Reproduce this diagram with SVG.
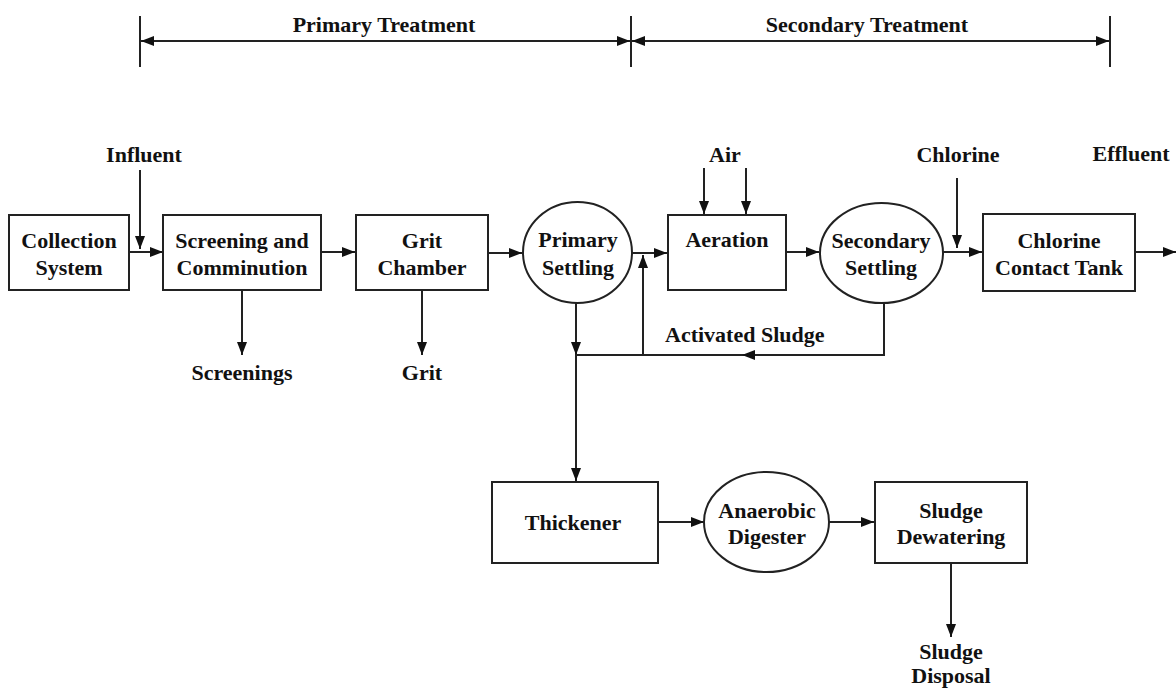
<svg xmlns="http://www.w3.org/2000/svg" width="1176" height="689" viewBox="0 0 1176 689">
<style>
.box{fill:#fff;stroke:#222;stroke-width:2}
.ln{fill:none;stroke:#222;stroke-width:2}
.t{font-family:"Liberation Serif","Times New Roman",serif;font-weight:bold;font-size:22px;fill:#111;text-anchor:middle}
.ts{text-anchor:start}
</style>
<defs>
<marker id="ah" markerUnits="userSpaceOnUse" markerWidth="14" markerHeight="12" refX="13" refY="5" orient="auto-start-reverse">
<path d="M0,0 L13,5 L0,10 z" fill="#111"/>
</marker>
</defs>
<g id="brackets">
<line class="ln" x1="140" y1="16" x2="140" y2="67"/>
<line class="ln" x1="631" y1="16" x2="631" y2="67"/>
<line class="ln" x1="1110" y1="16" x2="1110" y2="67"/>
<line class="ln" x1="141" y1="41" x2="630" y2="41" marker-start="url(#ah)" marker-end="url(#ah)"/>
<line class="ln" x1="632" y1="41" x2="1109" y2="41" marker-start="url(#ah)" marker-end="url(#ah)"/>
<text class="t" x="384" y="32">Primary Treatment</text>
<text class="t" x="867" y="32">Secondary Treatment</text>
</g>
<g id="connectors">
<line class="ln" x1="140" y1="170" x2="140" y2="249" marker-end="url(#ah)"/>
<line class="ln" x1="129" y1="252" x2="163" y2="252" marker-end="url(#ah)"/>
<line class="ln" x1="321" y1="252" x2="355" y2="252" marker-end="url(#ah)"/>
<line class="ln" x1="242" y1="290" x2="242" y2="355" marker-end="url(#ah)"/>
<line class="ln" x1="422" y1="290" x2="422" y2="355" marker-end="url(#ah)"/>
<line class="ln" x1="488" y1="253" x2="522" y2="253" marker-end="url(#ah)"/>
<line class="ln" x1="632" y1="253" x2="667" y2="253" marker-end="url(#ah)"/>
<line class="ln" x1="704" y1="168" x2="704" y2="214" marker-end="url(#ah)"/>
<line class="ln" x1="746" y1="168" x2="746" y2="214" marker-end="url(#ah)"/>
<line class="ln" x1="786" y1="252" x2="819" y2="252" marker-end="url(#ah)"/>
<line class="ln" x1="957" y1="178" x2="957" y2="248" marker-end="url(#ah)"/>
<line class="ln" x1="943" y1="252" x2="982" y2="252" marker-end="url(#ah)"/>
<line class="ln" x1="1135" y1="252" x2="1176" y2="252" marker-end="url(#ah)"/>
<line class="ln" x1="576" y1="303" x2="576" y2="355" marker-end="url(#ah)"/>
<line class="ln" x1="576" y1="355" x2="576" y2="481" marker-end="url(#ah)"/>
<path class="ln" d="M884,303 V355 H576"/>
<path d="M742,355 L755,350 L755,360 z" fill="#111"/>
<line class="ln" x1="643" y1="355" x2="643" y2="255" marker-end="url(#ah)"/>
<line class="ln" x1="658" y1="522" x2="704" y2="522" marker-end="url(#ah)"/>
<line class="ln" x1="829" y1="522" x2="874" y2="522" marker-end="url(#ah)"/>
<line class="ln" x1="951" y1="563" x2="951" y2="637" marker-end="url(#ah)"/>
</g>
<g id="labels">
<text class="t" x="144" y="162">Influent</text>
<text class="t" x="725" y="162">Air</text>
<text class="t" x="958" y="162">Chlorine</text>
<text class="t" x="1131" y="161">Effluent</text>
<text class="t" x="242" y="380">Screenings</text>
<text class="t" x="422" y="380">Grit</text>
<text class="t ts" x="665" y="342">Activated Sludge</text>
<text class="t" x="951" y="659">Sludge</text>
<text class="t" x="951" y="683">Disposal</text>
</g>
<g id="collection">
<rect class="box" x="9" y="215" width="120" height="75"/>
<text class="t" x="69" y="248">Collection</text>
<text class="t" x="69" y="275">System</text>
</g>
<g id="screening">
<rect class="box" x="163" y="215" width="158" height="75"/>
<text class="t" x="242" y="248">Screening and</text>
<text class="t" x="242" y="275">Comminution</text>
</g>
<g id="grit">
<rect class="box" x="356" y="215" width="132" height="75"/>
<text class="t" x="422" y="248">Grit</text>
<text class="t" x="422" y="275">Chamber</text>
</g>
<g id="primary-settling">
<ellipse class="box" cx="577.5" cy="252.5" rx="54.5" ry="50.5"/>
<text class="t" x="578" y="247">Primary</text>
<text class="t" x="578" y="275">Settling</text>
</g>
<g id="aeration">
<rect class="box" x="668" y="215" width="118" height="75"/>
<text class="t" x="727" y="247">Aeration</text>
</g>
<g id="secondary-settling">
<ellipse class="box" cx="881.5" cy="253" rx="61.5" ry="50"/>
<text class="t" x="881" y="248">Secondary</text>
<text class="t" x="881" y="275">Settling</text>
</g>
<g id="chlorine-contact">
<rect class="box" x="983" y="214" width="152" height="77"/>
<text class="t" x="1059" y="248">Chlorine</text>
<text class="t" x="1059" y="275">Contact Tank</text>
</g>
<g id="thickener">
<rect class="box" x="492" y="482" width="166" height="81"/>
<text class="t" x="573" y="530">Thickener</text>
</g>
<g id="digester">
<ellipse class="box" cx="766.5" cy="522" rx="62.5" ry="50"/>
<text class="t" x="767" y="518">Anaerobic</text>
<text class="t" x="767" y="544">Digester</text>
</g>
<g id="dewatering">
<rect class="box" x="875" y="482" width="152" height="81"/>
<text class="t" x="951" y="518">Sludge</text>
<text class="t" x="951" y="544">Dewatering</text>
</g>
</svg>
